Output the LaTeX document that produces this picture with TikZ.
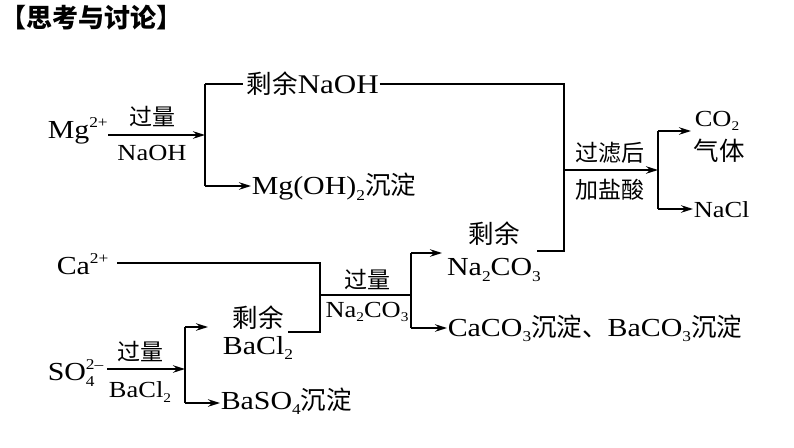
\documentclass[tikz,border=0pt]{standalone}
\usepackage{fontspec}
\usepackage{graphicx}
\setmainfont{Liberation Serif}[FakeStretch=1.15]
\newfontfamily\cjk{Noto Sans CJK SC}
\newcommand\zh[1]{{\cjk\fontsize{25.5}{29}\selectfont #1}}
\newcommand\zs[1]{{\cjk\fontsize{23}{27}\selectfont #1}}
\newcommand\up[1]{\raisebox{0.95ex}{\scalebox{0.58}{#1}}}
\newcommand\dn[1]{\raisebox{-0.45ex}{\scalebox{0.58}{#1}}}
\usetikzlibrary{arrows.meta}
\begin{document}
\begin{tikzpicture}[x=1pt,y=-1pt, line width=1.5pt,
  lbl/.style={inner sep=0pt, font=\fontsize{26}{30}\selectfont},
  sm/.style={inner sep=0pt, font=\fontsize{23}{26}\selectfont},
  arr/.style={-{Stealth[length=12pt,width=7.5pt]}}]
\useasboundingbox (0,0) rectangle (794,447);
\fill[white] (0,0) rectangle (794,447);
% title
\node[inner sep=0pt, anchor=west, font=\cjk\bfseries\fontsize{26}{29}\selectfont] (title) at (0,18) {【思考与讨论】};

% ---- Mg branch
\node[lbl, anchor=west] (mg) at (47,131) {Mg\up{2+}};
\coordinate (b1) at (205,135);
\coordinate (b1t) at (205,84);
\coordinate (b1b) at (205,186);
\draw[arr] (mg.east |- b1) -- (b1);
\node[sm] (l1a) at (152,117) {\zs{过量}};
\node[sm] (l1b) at (152,153) {NaOH};
\draw (b1t) -- (b1b);
\node[lbl, anchor=west, font=\fontsize{27}{30}\selectfont] (naohr) at (246,84) {\zh{剩余}NaOH};
\draw (b1t) -- (243,84);
\node[lbl, anchor=west] (mgoh) at (251,187) {Mg(OH)\dn{2}\zh{沉淀}};
\draw[arr] (b1b) -- (mgoh.west |- b1b);

% ---- join and filter
\coordinate (j1) at (564,84);
\coordinate (j2) at (564,251);
\coordinate (r2e) at (537,251);
\draw (naohr.east) -- (j1) -- (j2) -- (r2e);
\coordinate (f1) at (564,170);
\coordinate (f2) at (658,170);
\draw[arr] (f1) -- (f2);
\node[sm] (l3a) at (610,153) {\zs{过滤后}};
\node[sm] (l3b) at (610,190) {\zs{加盐酸}};
\coordinate (b3t) at (658,131);
\coordinate (b3b) at (658,209);
\draw (b3t) -- (b3b);
\node[sm, anchor=west] (co2) at (694,121) {CO\dn{2}};
\node[lbl] (gas) at (719,151) {\zh{气体}};
\coordinate (co2in) at (691,131);
\draw[arr] (b3t) -- (co2in);
\node[sm, anchor=west] (nacl) at (693,210) {NaCl};
\draw[arr] (b3b) -- (nacl.west |- b3b);

% ---- Ca branch
\node[lbl, anchor=west] (ca) at (56,264) {Ca\up{2+}};
\coordinate (c1) at (117,263);
\coordinate (c2) at (320,263);
\coordinate (c3) at (320,332);
\coordinate (c4) at (288,332);
\draw (c1) -- (c2) -- (c3) -- (c4);
\coordinate (d1) at (320,295);
\coordinate (d2) at (411,295);
\draw (d1) -- (d2);
\node[sm] (l4a) at (367,280) {\zs{过量}};
\node[sm] (l4b) at (367,312) {Na\dn{2}CO\dn{3}};
\coordinate (b4t) at (411,253);
\coordinate (b4b) at (411,328);
\draw (b4t) -- (b4b);
\coordinate (r2in) at (442,253);
\draw[arr] (b4t) -- (r2in);
\node[lbl] (r2a) at (494,234) {\zh{剩余}};
\node[lbl] (r2b) at (494,270) {Na\dn{2}CO\dn{3}};
\node[lbl, anchor=west] (caco) at (447,328) {CaCO\dn{3}\zh{沉淀、}BaCO\dn{3}\zh{沉淀}};
\draw[arr] (b4b) -- (caco.west |- b4b);

% ---- SO4 branch
\node[lbl, anchor=west] (so4) at (47,373) {SO\rlap{\up{2\textendash}}\dn{4}};
\coordinate (e1) at (107,369);
\coordinate (b5) at (185,369);
\draw[arr] (e1) -- (b5);
\node[sm] (l5a) at (140,352) {\zs{过量}};
\node[sm] (l5b) at (140,392) {BaCl\dn{2}};
\coordinate (b5t) at (185,327);
\coordinate (b5b) at (185,403);
\draw (b5t) -- (b5b);
\coordinate (r3in) at (208,327);
\draw[arr] (b5t) -- (r3in);
\node[lbl] (r3a) at (258,318) {\zh{剩余}};
\node[lbl] (r3b) at (258,348) {BaCl\dn{2}};
\node[lbl, anchor=west] (baso) at (220,401) {BaSO\dn{4}\zh{沉淀}};
\draw[arr] (b5b) -- (baso.west |- b5b);
\end{tikzpicture}
\end{document}
